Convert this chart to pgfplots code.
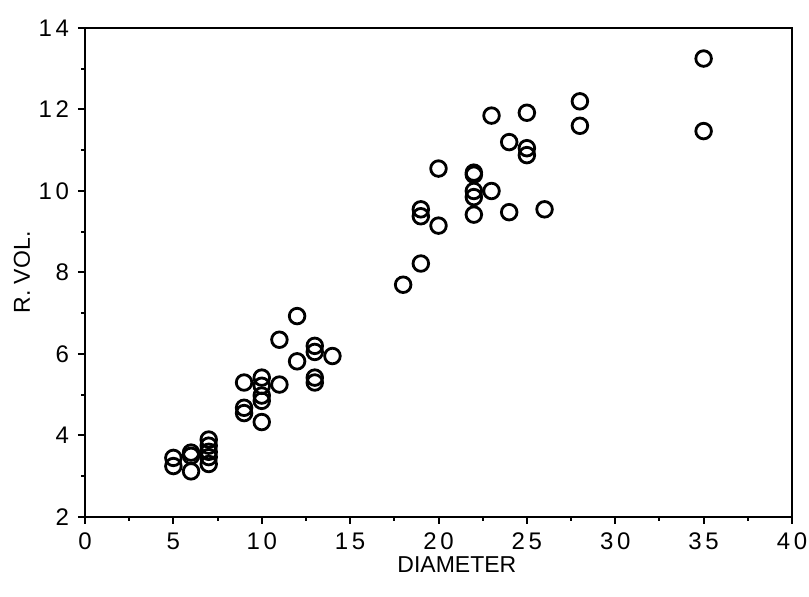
\documentclass[border=0pt]{standalone}
\usepackage{fontspec}
\setmainfont{Liberation Sans}
\usepackage{pgfplots}
\pgfplotsset{compat=1.18}
\pgfplotstableread{
x y
5 3.45
5 3.25
6 3.58
6 3.50
6 3.12
7 3.90
7 3.75
7 3.60
7 3.47
7 3.30
9 5.30
9 4.68
9 4.55
10 5.42
10 5.22
10 4.98
10 4.85
10 4.33
11 6.35
11 5.25
12 6.93
12 5.82
13 6.20
13 6.05
13 5.42
13 5.30
14 5.95
18 7.70
19 8.22
19 9.55
19 9.38
20 10.55
20 9.15
22 10.45
22 10.40
22 10.00
22 9.85
22 9.42
23 11.85
23 10.00
24 11.20
24 9.48
25 11.92
25 11.05
25 10.88
26 9.55
28 12.20
28 11.60
35 13.25
35 11.47
}\datatable
\begin{document}
\begin{tikzpicture}
\begin{axis}[
 scale only axis, width=353.5pt, height=244.5pt,
 xmin=0, xmax=40, ymin=2, ymax=14,
 xtick={0,5,...,40}, ytick={2,4,...,14},
 minor xtick={2.5,7.5,...,37.5}, minor ytick={3,5,...,13},
 tick pos=left, tick align=outside,
 major tick length=3.5pt, minor tick length=1.8pt,
 axis line style={line width=1.2pt},
 every tick/.style={line width=1pt, black},
 /pgf/number format/assume math mode=true,
 tick label style={font=\fontsize{12}{14}\selectfont\addfontfeature{LetterSpace=15}},
 xticklabel style={yshift=-1pt},
 yticklabel style={xshift=-1pt},
 label style={font=\fontsize{11.5}{14}\selectfont},
 xlabel={DIAMETER}, ylabel={R. VOL.},
 xlabel style={at={(axis description cs:0.526,-0.098)}, anchor=center},
 ylabel style={at={(axis description cs:-0.089,0.5)}, anchor=center},
]
\addplot[only marks, mark=o, mark size=3.9pt, mark options={line width=1.4pt, black}] table[x=x,y=y] {\datatable};
\end{axis}
\pgfresetboundingbox
\path ([xshift=-42.5pt,yshift=-40pt]current axis.south west) rectangle ([xshift=8.5pt,yshift=14pt]current axis.north east);
\end{tikzpicture}
\end{document}
